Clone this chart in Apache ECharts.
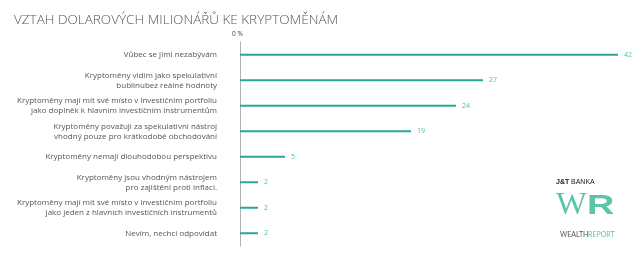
<!DOCTYPE html>
<html><head><meta charset="utf-8">
<script src="https://cdn.jsdelivr.net/npm/echarts@6/dist/echarts.min.js"></script>
<style>html,body{margin:0;padding:0;background:#fff}#c{width:640px;height:253px}</style>
</head><body><div id="c"></div>
<script>
const categories = [
  "Vůbec se jimi nezabývám",
  "Kryptoměny vidím jako spekulativní\nbublinubez reálné hodnoty",
  "Kryptoměny mají mít své místo v investičním portfoliu\njako doplněk k hlavním investičním instrumentům",
  "Kryptoměny považuji za spekulativní nástroj\nvhodný pouze pro krátkodobé obchodování",
  "Kryptoměny nemají dlouhodobou perspektivu",
  "Kryptoměny jsou vhodným nástrojem\npro zajištění proti inflaci.",
  "Kryptoměny mají mít své místo v investičním portfoliu\njako jeden z hlavních investičních instrumentů",
  "Nevím, nechci odpovídat"
];
const values = [42, 27, 24, 19, 5, 2, 2, 2];
const axisTitle = "0 %";
const title = "VZTAH DOLAROVÝCH MILIONÁŘŮ KE KRYPTOMĚNÁM";

const chart = echarts.init(document.getElementById('c'), null, {renderer:'canvas'});
chart.setOption({
  backgroundColor:'#fff',
  animation:false,
  title:{text:title,left:9,top:8,textStyle:{fontFamily:'Open Sans',fontWeight:300,fontSize:13.5,color:'#555'}},
  grid:{left:240,right:22,top:42,bottom:7,containLabel:false},
  xAxis:{type:'value',min:0,max:42,show:false},
  yAxis:{type:'category',inverse:true,data:categories,
    axisLine:{show:true,lineStyle:{color:'#b0b0b0',width:1}},
    axisTick:{show:false},
    axisLabel:{margin:23,fontFamily:'Open Sans',fontSize:8,lineHeight:10,color:'#555',align:'right'}
  },
  series:[{type:'bar',data:values,barWidth:2,itemStyle:{color:'#2ba597'},
    label:{show:true,position:'right',distance:6,fontFamily:'Open Sans',fontSize:7,color:'#4dbcad'}}],
  graphic:[
    {type:'text',left:232,top:31,style:{text:axisTitle,fontFamily:'Open Sans',fontSize:6.5,fill:'#444'}},
    {type:'text',left:556,top:179,style:{text:'J&T',fontFamily:'Liberation Sans',fontWeight:'bold',fontSize:7,fill:'#222'}},
    {type:'text',left:571,top:179,style:{text:'BANKA',fontFamily:'Liberation Sans',fontSize:7,fill:'#222'}},
    {type:'text',left:556,top:190,scaleX:1.05,style:{text:'W',fontFamily:'Liberation Serif',fontSize:31,fill:'#5cc4a9'}},
    {type:'text',x:587,y:192,scaleX:1.35,style:{text:'R',fontFamily:'Liberation Sans',fontWeight:'bold',fontSize:28,fill:'#5cc4a9'}},
    {type:'text',left:560,top:231,style:{text:'WEALTH',fontFamily:'Lato',fontSize:7,fill:'#555'}},
    {type:'text',left:588,top:231,style:{text:'REPORT',fontFamily:'Lato',fontSize:7,fill:'#5cc4a9'}}
  ]
});
</script></body></html>
